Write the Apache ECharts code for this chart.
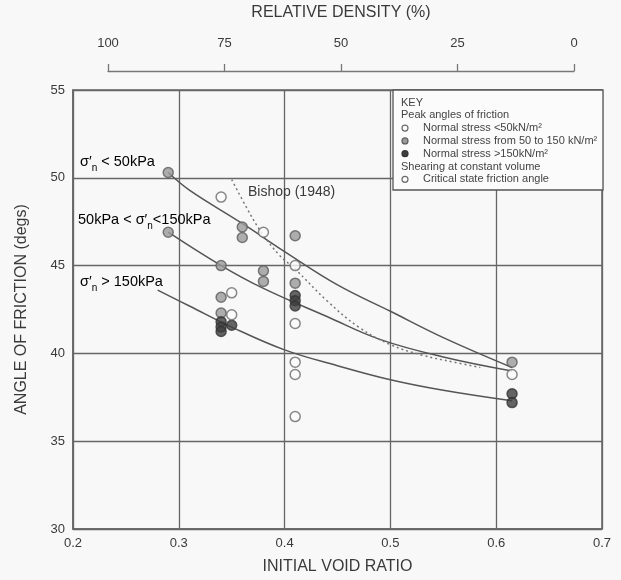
<!DOCTYPE html>
<html>
<head>
<meta charset="utf-8">
<script src="https://cdn.jsdelivr.net/npm/echarts@6/dist/echarts.min.js"></script>
<style>
html,body{margin:0;padding:0;background:#f8f8f8;}
#chart{width:621px;height:580px;}
</style>
</head>
<body>
<div id="chart"></div>
<script>
// ---- data ----
const relDensityTicks = [100, 75, 50, 25, 0];
const voidRatioRange = [0.2, 0.7];
const angleRange = [30, 55];

// peak angles, normal stress < 50 kN/m2 (open)
const peakLow = [[0.34, 48.9], [0.38, 46.9], [0.41, 45.0]];
// peak angles, 50-150 kN/m2 (grey)
const peakMid = [[0.29, 50.3], [0.29, 46.9], [0.34, 45.0], [0.36, 47.2], [0.36, 46.6],
                 [0.38, 44.7], [0.38, 44.1], [0.41, 46.7], [0.41, 44.0], [0.34, 43.2],
                 [0.34, 42.3], [0.615, 39.5]];
// peak angles, > 150 kN/m2 (dark)
const peakHigh = [[0.41, 43.3], [0.41, 43.0], [0.41, 42.7], [0.34, 41.8], [0.34, 41.5],
                  [0.34, 41.25], [0.35, 41.6], [0.615, 37.7], [0.615, 37.2]];
// critical state friction angle (open)
const critical = [[0.35, 43.45], [0.35, 42.2], [0.41, 41.7], [0.41, 39.5], [0.41, 38.8],
                  [0.41, 36.4], [0.615, 38.8]];

// trend curves
const curveLow = [[0.29, 50.3], [0.31, 49.3], [0.36, 47.4], [0.40, 45.8], [0.45, 43.9],
                  [0.50, 42.4], [0.55, 40.9], [0.615, 39.2]];
const curveMid = [[0.29, 46.9], [0.34, 45.0], [0.38, 43.7], [0.44, 42.1], [0.49, 40.8],
                  [0.55, 39.8], [0.615, 39.0]];
const curveHigh = [[0.28, 43.6], [0.31, 42.7], [0.35, 41.5], [0.40, 40.2], [0.45, 39.3],
                   [0.50, 38.5], [0.55, 37.9], [0.615, 37.3]];
const curveBishop = [[0.35, 49.9], [0.365, 48.2], [0.378, 46.9], [0.395, 45.6], [0.41, 44.8],
                     [0.44, 43.0], [0.47, 41.5], [0.50, 40.5], [0.53, 39.9], [0.56, 39.5],
                     [0.585, 39.2]];

const FONT = '"Liberation Sans", Arial, sans-serif';
const GRID = '#666';
const TXT = '#3a3a3a';

const chart = echarts.init(document.getElementById('chart'), null, {renderer: 'canvas'});

const openStyle = {color: '#fbfbfb', borderColor: '#6a6a6a', borderWidth: 1.5};
const midStyle = {color: '#9a9a9a', borderColor: '#5e5e5e', borderWidth: 1.5};
const highStyle = {color: '#3e3e3e', borderColor: '#333', borderWidth: 1.5};

function lineSeries(data, style) {
  return {type: 'line', data: data, smooth: 0.4, symbol: 'none', z: 2,
          lineStyle: style, silent: true, animation: false};
}
function scatterSeries(name, data, style) {
  return {type: 'scatter', name: name, data: data, symbol: 'circle', symbolSize: 10,
          itemStyle: style, z: 4, animation: false};
}

const subRich = {
  m: {fontSize: 14.5, fontFamily: FONT, color: TXT, verticalAlign: 'middle', lineHeight: 22},
  s: {fontSize: 10, fontFamily: FONT, color: TXT, verticalAlign: 'bottom', lineHeight: 22}
};
function annot(x, y, text) {
  return {type: 'text', x: x, y: y, z: 50,
          style: {text: text, rich: subRich, verticalAlign: 'middle', align: 'left'}};
}

const keyX = 393, keyY = 90, keyW = 210, keyH = 100;
const keyLines = [
  ['KEY', null],
  ['Peak angles of friction', null],
  ['Normal stress <50kN/m\u00b2', openStyle],
  ['Normal stress from 50 to 150 kN/m\u00b2', midStyle],
  ['Normal stress >150kN/m\u00b2', highStyle],
  ['Shearing at constant volume', null],
  ['Critical state friction angle', openStyle]
];
const keyChildren = [{type: 'rect', z: 100, shape: {x: keyX, y: keyY, width: keyW, height: keyH},
  style: {fill: '#fbfbfb', stroke: '#555', lineWidth: 1.3}}];
keyLines.forEach((l, i) => {
  const y = keyY + 12.5 + i * 12.8;
  if (l[1]) {
    keyChildren.push({type: 'circle', z: 101, shape: {cx: keyX + 12, cy: y, r: 3},
      style: {fill: l[1].color, stroke: l[1].borderColor, lineWidth: 1.2}});
    keyChildren.push({type: 'text', z: 101, x: keyX + 30, y: y,
      style: {text: l[0], font: '11px ' + FONT, fill: '#444', verticalAlign: 'middle'}});
  } else {
    keyChildren.push({type: 'text', z: 101, x: keyX + 8, y: y,
      style: {text: l[0], font: '11px ' + FONT, fill: '#444', verticalAlign: 'middle'}});
  }
});

const option = {
  backgroundColor: '#f8f8f8',
  animation: false,
  grid: [
    {left: 73, top: 90, width: 529, height: 439, show: true, borderColor: GRID, borderWidth: 1.5,
     backgroundColor: 'transparent', containLabel: false, outerBoundsMode: 'none'},
    {left: 108, top: 70, width: 466, height: 1, containLabel: false, outerBoundsMode: 'none'}
  ],
  xAxis: [
    {type: 'value', gridIndex: 0, min: voidRatioRange[0], max: voidRatioRange[1], interval: 0.1,
     name: 'INITIAL VOID RATIO', nameLocation: 'middle', nameGap: 30,
     nameTextStyle: {fontFamily: FONT, fontSize: 16, color: TXT},
     axisLine: {lineStyle: {color: GRID, width: 1.5}}, axisTick: {show: false},
     splitLine: {lineStyle: {color: GRID, width: 1.3}},
     axisLabel: {fontFamily: FONT, fontSize: 13, color: TXT, margin: 8,
                 formatter: v => v.toFixed(1)}},
    {type: 'value', gridIndex: 1, min: relDensityTicks[4], max: relDensityTicks[0], interval: 25,
     inverse: true, position: 'top',
     name: 'RELATIVE DENSITY (%)', nameLocation: 'middle', nameGap: 49,
     nameTextStyle: {fontFamily: FONT, fontSize: 16, color: TXT},
     axisLine: {lineStyle: {color: '#777', width: 1.3}},
     axisTick: {show: true, length: 7, lineStyle: {color: '#777', width: 1.3}},
     splitLine: {show: false},
     axisLabel: {fontFamily: FONT, fontSize: 13, color: TXT, margin: 20}}
  ],
  yAxis: [
    {type: 'value', gridIndex: 0, min: angleRange[0], max: angleRange[1], interval: 5,
     name: 'ANGLE OF FRICTION (degs)', nameLocation: 'middle', nameGap: 43,
     nameTextStyle: {fontFamily: FONT, fontSize: 16, color: TXT},
     axisLine: {lineStyle: {color: GRID, width: 1.5}}, axisTick: {show: false},
     splitLine: {lineStyle: {color: GRID, width: 1.3}},
     axisLabel: {fontFamily: FONT, fontSize: 13, color: TXT, margin: 8}},
    {type: 'value', gridIndex: 1, show: false, min: 0, max: 1}
  ],
  series: [
    lineSeries(curveLow, {color: '#555', width: 1.5}),
    lineSeries(curveMid, {color: '#555', width: 1.5}),
    lineSeries(curveHigh, {color: '#555', width: 1.5}),
    lineSeries(curveBishop, {color: '#777', width: 1.5, type: [2, 3]}),
    scatterSeries('Normal stress <50kN/m2', peakLow, openStyle),
    scatterSeries('Normal stress from 50 to 150 kN/m2', peakMid, midStyle),
    scatterSeries('Normal stress >150kN/m2', peakHigh, highStyle),
    scatterSeries('Critical state friction angle', critical, openStyle)
  ],
  graphic: [
    {type: 'group', z: 100, children: keyChildren},
    annot(80, 162, '{m|\u03c3\u2032}{s|n}{m| < 50kPa}'),
    annot(78, 220, '{m|50kPa < \u03c3\u2032}{s|n}{m|<150kPa}'),
    annot(80, 282, '{m|\u03c3\u2032}{s|n}{m| > 150kPa}'),
    {type: 'text', x: 248, y: 192, z: 50,
     style: {text: 'Bishop (1948)', font: '14px ' + FONT, fill: TXT, verticalAlign: 'middle'}}
  ]
};
chart.setOption(option);
</script>
</body>
</html>
